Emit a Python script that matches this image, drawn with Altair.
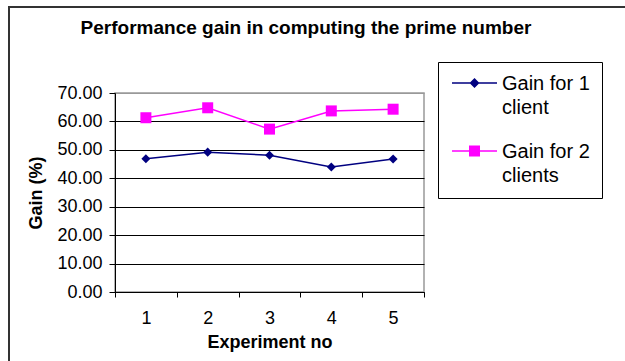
import altair as alt
import pandas as pd

# ---- data ----
experiments = [1, 2, 3, 4, 5]
gain_1_client = [46.9, 49.2, 48.1, 44.0, 46.8]
gain_2_clients = [61.3, 64.8, 57.3, 63.7, 64.3]
series_names = ["Gain for 1 client", "Gain for 2 clients"]
y_ticks = [0, 10, 20, 30, 40, 50, 60, 70]
chart_title = ["Performance gain in computing the prime number"]
x_title = "Experiment no"
y_title = "Gain (%)"

rows = []
for e, a, b in zip(experiments, gain_1_client, gain_2_clients):
    rows.append({"experiment": e, "series": series_names[0], "gain": a})
    rows.append({"experiment": e, "series": series_names[1], "gain": b})
df = pd.DataFrame(rows)

# ---- styling ----
FONT = "Liberation Sans"
colors = ["#000080", "#FF00FF"]
W, H = 309, 199
PAD_L, PAD_T = 115, 93

# point shapes in plot (unit square -1..1)
diamond_pt = "M0,-0.82 L0.82,0 L0,0.82 L-0.82,0 Z"
# legend symbols: a line segment with a marker, lifted to the first label line
leg_line = "M-0.933,-0.517 L2.067,-0.517 L2.067,-0.417 L-0.933,-0.417 Z "
leg_diamond = leg_line + "M0.567,-0.8 L0.9,-0.467 L0.567,-0.133 L0.233,-0.467 Z"
leg_square = leg_line + "M0.2,-0.833 L0.933,-0.833 L0.933,-0.1 L0.2,-0.1 Z"

x_enc = alt.X(
    "experiment:O",
    bandPosition=0.5,
    scale=alt.Scale(type="band", paddingInner=0, paddingOuter=0),
    axis=alt.Axis(
        title=x_title, labelAngle=0, tickBand="extent", tickSize=5,
        labelPadding=12, labelFontSize=18, labelFont=FONT,
        titleFont=FONT, titleFontSize=18, titleFontWeight="bold",
        titlePadding=6, grid=False,
    ),
)
y_enc = alt.Y(
    "gain:Q",
    scale=alt.Scale(domain=[0, 70], nice=False),
    axis=alt.Axis(
        title=y_title, values=y_ticks, format=".2f", tickSize=6,
        labelPadding=7, labelFontSize=18, labelFont=FONT,
        titleFont=FONT, titleFontSize=18, titleFontWeight="bold",
        titlePadding=11, grid=True,
        gridColor={"condition": {"test": "datum.value == 70", "value": "#999999"},
                   "value": "#000000"},
        gridWidth=1,
    ),
)

color_scale = alt.Scale(domain=series_names, range=colors)

base = alt.Chart(df)

lines = base.mark_line(strokeWidth=1.5).encode(
    x=x_enc, y=y_enc,
    color=alt.Color("series:N", scale=color_scale, legend=None),
)

points = base.mark_point(filled=True, opacity=1, size=121).encode(
    x=x_enc, y=y_enc,
    color=alt.Color("series:N", scale=color_scale, legend=None),
    shape=alt.Shape("series:N",
                    scale=alt.Scale(domain=series_names, range=[diamond_pt, "square"]),
                    legend=None),
)

leg = alt.Legend(
    title=None, orient="none", legendX=323, legendY=-31,
    strokeColor="#000000", fillColor="#FFFFFF", padding=12,
    labelFont=FONT, labelFontSize=20, labelColor="#000000",
    labelBaseline="alphabetic", labelOffset=20, labelLimit=300,
    labelExpr="[slice(datum.label, 0, 10), slice(datum.label, 11)]",
    rowPadding=24, symbolSize=900,
)

legend_layer = base.transform_filter("false").mark_point(
    filled=True, opacity=1, size=900
).encode(
    color=alt.Color("series:N", scale=color_scale, legend=leg),
    shape=alt.Shape("series:N",
                    scale=alt.Scale(domain=series_names, range=[leg_diamond, leg_square]),
                    legend=leg),
)

frame = alt.Chart(alt.Data(values=[{"k": 0}])).mark_rect(
    fillOpacity=0, stroke="#333333", strokeWidth=2
).encode(
    x=alt.value(9 - PAD_L), x2=alt.value(800),
    y=alt.value(7 - PAD_T), y2=alt.value(500),
)

title = alt.Chart(alt.Data(values=[{"t": t} for t in chart_title])).mark_text(
    font=FONT, fontSize=19, fontWeight="bold", color="#000000",
    align="center", baseline="middle",
).encode(
    x=alt.value(306 - PAD_L), y=alt.value(28 - PAD_T), text="t:N",
)

chart = alt.layer(frame, title, lines, points, legend_layer).resolve_scale(
    color="independent", shape="independent"
).properties(
    width=W, height=H,
    autosize=alt.AutoSizeParams(type="none"),
    padding={"left": PAD_L, "top": PAD_T, "right": 625 - PAD_L - W, "bottom": 361 - PAD_T - H},
    background="#FFFFFF",
).configure(
    style={"guide-label": {"lineHeight": 24}}
).configure_view(
    stroke="#999999", strokeWidth=1.5,
).configure_axis(
    domainColor="#000000", tickColor="#000000", labelColor="#000000",
    titleColor="#000000", domainWidth=1, tickWidth=1,
)

chart.save("out.html", embed_options={"renderer": "svg", "actions": False})
